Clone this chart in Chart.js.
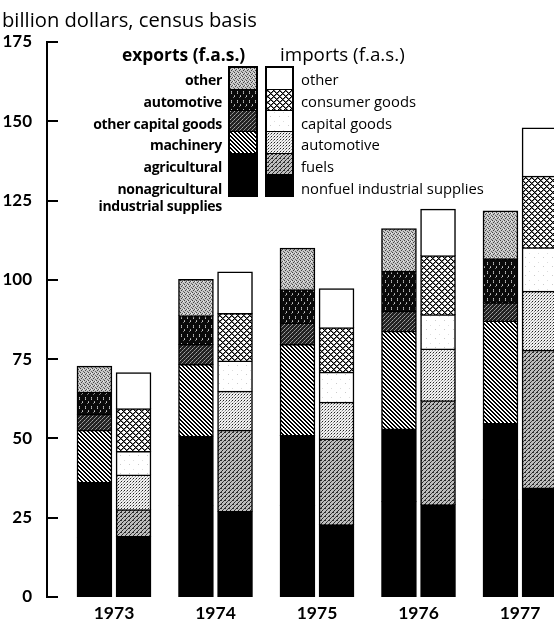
<!DOCTYPE html>
<html>
<head>
<meta charset="utf-8">
<script src="https://cdn.jsdelivr.net/npm/chart.js@4.4.0/dist/chart.umd.min.js"></script>
<style>
  body { margin: 0; background: #fff; }
  #wrap { position: relative; width: 554px; height: 621px; overflow: hidden; font-family: "Open Sans", sans-serif; color: #000; }
  #chart { position: absolute; left: 0; top: 0; }
  .txt { position: absolute; white-space: nowrap; }
  .col { position: absolute; border: 2px solid #000; box-sizing: border-box; }
  .sw { box-sizing: border-box; border-top: 1.5px solid #000; background-repeat: repeat; }
  .sw:first-child { border-top: none; }
</style>
</head>
<body>
<div id="wrap">
  <canvas id="chart" width="554" height="621"></canvas>
  <div class="txt" style="left:2px; top:5px; font-size:20.2px;">billion dollars, census basis</div>
  <div class="txt" style="left:122px; top:42px; font-size:17.4px; font-weight:700;">exports (f.a.s.)</div>
  <div class="txt" style="left:280px; top:41px; font-size:18.8px;">imports (f.a.s.)</div>
  <div id="legend"></div>
</div>
<script>
/* ---- dados (bilhoes de dolares) ---- */
const years = [1973, 1974, 1975, 1976, 1977];

// exportacoes, de baixo para cima
const expNonagIndustrial = [18.5, 28.6, 28.8, 29.9, 30.6];
const expAgricultural    = [17.6, 22.0, 22.0, 23.0, 24.0];
const expMachinery       = [16.4, 22.6, 28.7, 30.8, 32.3];
const expOtherCapital    = [5.0, 6.3, 6.8, 6.3, 5.8];
const expAutomotive      = [7.0, 9.1, 10.5, 12.6, 13.9];
const expOther           = [8.2, 11.4, 13.1, 13.4, 15.0];

// importacoes, de baixo para cima
const impNonfuel   = [19.0, 26.9, 22.7, 29.0, 34.3];
const impFuels     = [8.4, 25.6, 27.0, 32.8, 43.4];
const impAutomotive = [11.0, 12.3, 11.6, 16.3, 18.6];
const impCapital   = [7.4, 9.5, 9.5, 10.8, 13.7];
const impConsumer  = [13.5, 15.0, 14.0, 18.6, 22.6];
const impOther     = [11.3, 13.1, 12.3, 14.7, 15.2];

const expLabels = ['nonagricultural\nindustrial supplies', 'agricultural', 'machinery', 'other capital goods', 'automotive', 'other'];
const impLabels = ['nonfuel industrial supplies', 'fuels', 'automotive', 'capital goods', 'consumer goods', 'other'];
const yTicks = [0, 25, 50, 75, 100, 125, 150, 175];

/* ---- texturas ---- */
function makeTile(w, h, bg, dots) {
    const c = document.createElement('canvas');
    c.width = w; c.height = h;
    const g = c.getContext('2d');
    g.fillStyle = bg;
    g.fillRect(0, 0, w, h);
    dots.forEach(([x, y, col]) => { g.fillStyle = col; g.fillRect(x, y, 1, 1); });
    return c;
}
function tileWhere(w, h, bg, pick) {
    const d = [];
    for (let x = 0; x < w; x++) for (let y = 0; y < h; y++) {
        const col = pick(x, y);
        if (col) d.push([x, y, col]);
    }
    return makeTile(w, h, bg, d);
}

const tiles = {
    expOther: makeTile(4, 4, '#c6c6c6', [[0,0,'#444'],[2,1,'#555'],[1,2,'#444'],[3,3,'#666'],[3,1,'#eee']]),
    expAuto: makeTile(6, 9, '#0a0a0a', [[1,1,'#bbb'],[1,2,'#888'],[1,3,'#bbb'],[4,5,'#999'],[4,6,'#ccc'],[3,7,'#777']]),
    expOcg: makeTile(4, 4, '#222', [[0,0,'#aaa'],[2,2,'#999'],[1,3,'#777'],[3,1,'#888']]),
    expMach: tileWhere(4, 4, '#fff', (x, y) => ((x - y + 8) % 4) < 2 ? '#000' : null),
    black: makeTile(2, 2, '#000', []),
    white: makeTile(2, 2, '#fff', []),
    impConsumer: tileWhere(6, 6, '#fff', (x, y) => {
        const a = (x + y) % 6, b = (x - y + 12) % 6;
        if (a === 0 || b === 0) return '#000';
        if (a === 1 || b === 1) return '#777';
        return null;
    }),
    impCapital: makeTile(9, 9, '#fff', [[3,5,'#ccc'],[7,1,'#ddd']]),
    impAuto: makeTile(3, 3, '#f2f2f2', [[1,1,'#222'],[0,2,'#888'],[2,0,'#bbb']]),
    impFuels: makeTile(4, 4, '#bdbdbd', [[0,0,'#222'],[1,0,'#333'],[2,2,'#222'],[3,1,'#444'],[1,3,'#333']])
};

const ctx = document.getElementById('chart').getContext('2d');
const pat = t => ctx.createPattern(tiles[t], 'repeat');

const expSeries = [expNonagIndustrial, expAgricultural, expMachinery, expOtherCapital, expAutomotive, expOther];
const impSeries = [impNonfuel, impFuels, impAutomotive, impCapital, impConsumer, impOther];
const expTiles = ['black', 'black', 'expMach', 'expOcg', 'expAuto', 'expOther'];
const impTiles = ['black', 'impFuels', 'impAuto', 'impCapital', 'impConsumer', 'white'];

const datasets = [];
expSeries.forEach((vals, i) => datasets.push({
    label: 'exports ' + expLabels[i],
    stack: 'exports',
    data: years.map((yr, j) => ({ x: yr, y: vals[j] })),
    backgroundColor: pat(expTiles[i]),
    borderColor: '#000', borderWidth: 1.5, inflateAmount: 0.8
}));
impSeries.forEach((vals, i) => datasets.push({
    label: 'imports ' + impLabels[i],
    stack: 'imports',
    data: years.map((yr, j) => ({ x: yr, y: vals[j] })),
    backgroundColor: pat(impTiles[i]),
    borderColor: '#000', borderWidth: 1.5, inflateAmount: 0.8
}));

// marcas do eixo y voltadas para dentro
const innerTicks = {
    id: 'innerTicks',
    afterDraw(chart) {
        const ys = chart.scales.y;
        const c = chart.ctx;
        c.save();
        c.strokeStyle = '#000';
        c.lineWidth = 2;
        ys.ticks.forEach(t => {
            const py = Math.round(ys.getPixelForValue(t.value));
            c.beginPath();
            c.moveTo(ys.right - 1, py);
            c.lineTo(ys.right + 11, py);
            c.stroke();
        });
        c.restore();
    }
};

new Chart(ctx, {
    type: 'bar',
    data: { datasets },
    options: {
        responsive: false,
        animation: false,
        devicePixelRatio: 1,
        categoryPercentage: 0.77,
        barPercentage: 0.87,
        layout: { padding: { top: 42, left: 0, right: 0, bottom: 0 } },
        plugins: { legend: { display: false }, tooltip: { enabled: false } },
        scales: {
            x: {
                type: 'linear',
                offset: false,
                min: 1972.34, max: 1977.335,
                grid: { display: false, offset: false },
                border: { display: false },
                afterBuildTicks: s => { s.ticks = years.map(v => ({ value: v })); },
                afterFit: s => { s.height = 24; },
                ticks: {
                    padding: -2,
                    color: '#000',
                    font: { family: 'Lato', size: 17.5, weight: '700' },
                    callback: v => String(v)
                }
            },
            y: {
                min: 0, max: 175,
                stacked: true,
                grid: { display: false },
                border: { display: true, color: '#000', width: 2 },
                afterBuildTicks: s => { s.ticks = yTicks.map(v => ({ value: v })); },
                afterFit: s => { s.width = 47; },
                ticks: {
                    padding: 7,
                    color: '#000',
                    font: { family: 'Lato', size: 17, weight: '700' }
                }
            }
        }
    },
    plugins: [innerTicks]
});

/* ---- legenda em HTML ---- */
const legend = document.getElementById('legend');
function addColumn(left, width, tileNames) {
    const col = document.createElement('div');
    col.className = 'col';
    col.style.cssText = `left:${left}px; top:66px; width:${width}px; height:131px;`;
    tileNames.slice().reverse().forEach(t => {
        const s = document.createElement('div');
        s.className = 'sw';
        s.style.height = (127 / 6) + 'px';
        s.style.backgroundImage = `url(${tiles[t].toDataURL()})`;
        col.appendChild(s);
    });
    legend.appendChild(col);
}
addColumn(228, 30, expTiles);
addColumn(265, 29, impTiles);

expLabels.slice().reverse().forEach((txt, i) => {
    const d = document.createElement('div');
    d.className = 'txt';
    d.style.cssText = `right:${554 - 222}px; top:${80 + i * 21.8 - 9}px; font-size:14px; line-height:17px; font-weight:700; text-align:right; white-space:pre; letter-spacing:-0.3px;`;
    d.textContent = txt;
    legend.appendChild(d);
});
impLabels.slice().reverse().forEach((txt, i) => {
    const d = document.createElement('div');
    d.className = 'txt';
    d.style.cssText = `left:301px; top:${80 + i * 21.8 - 9}px; font-size:14.8px; line-height:17px;`;
    d.textContent = txt;
    legend.appendChild(d);
});
</script>
</body>
</html>
